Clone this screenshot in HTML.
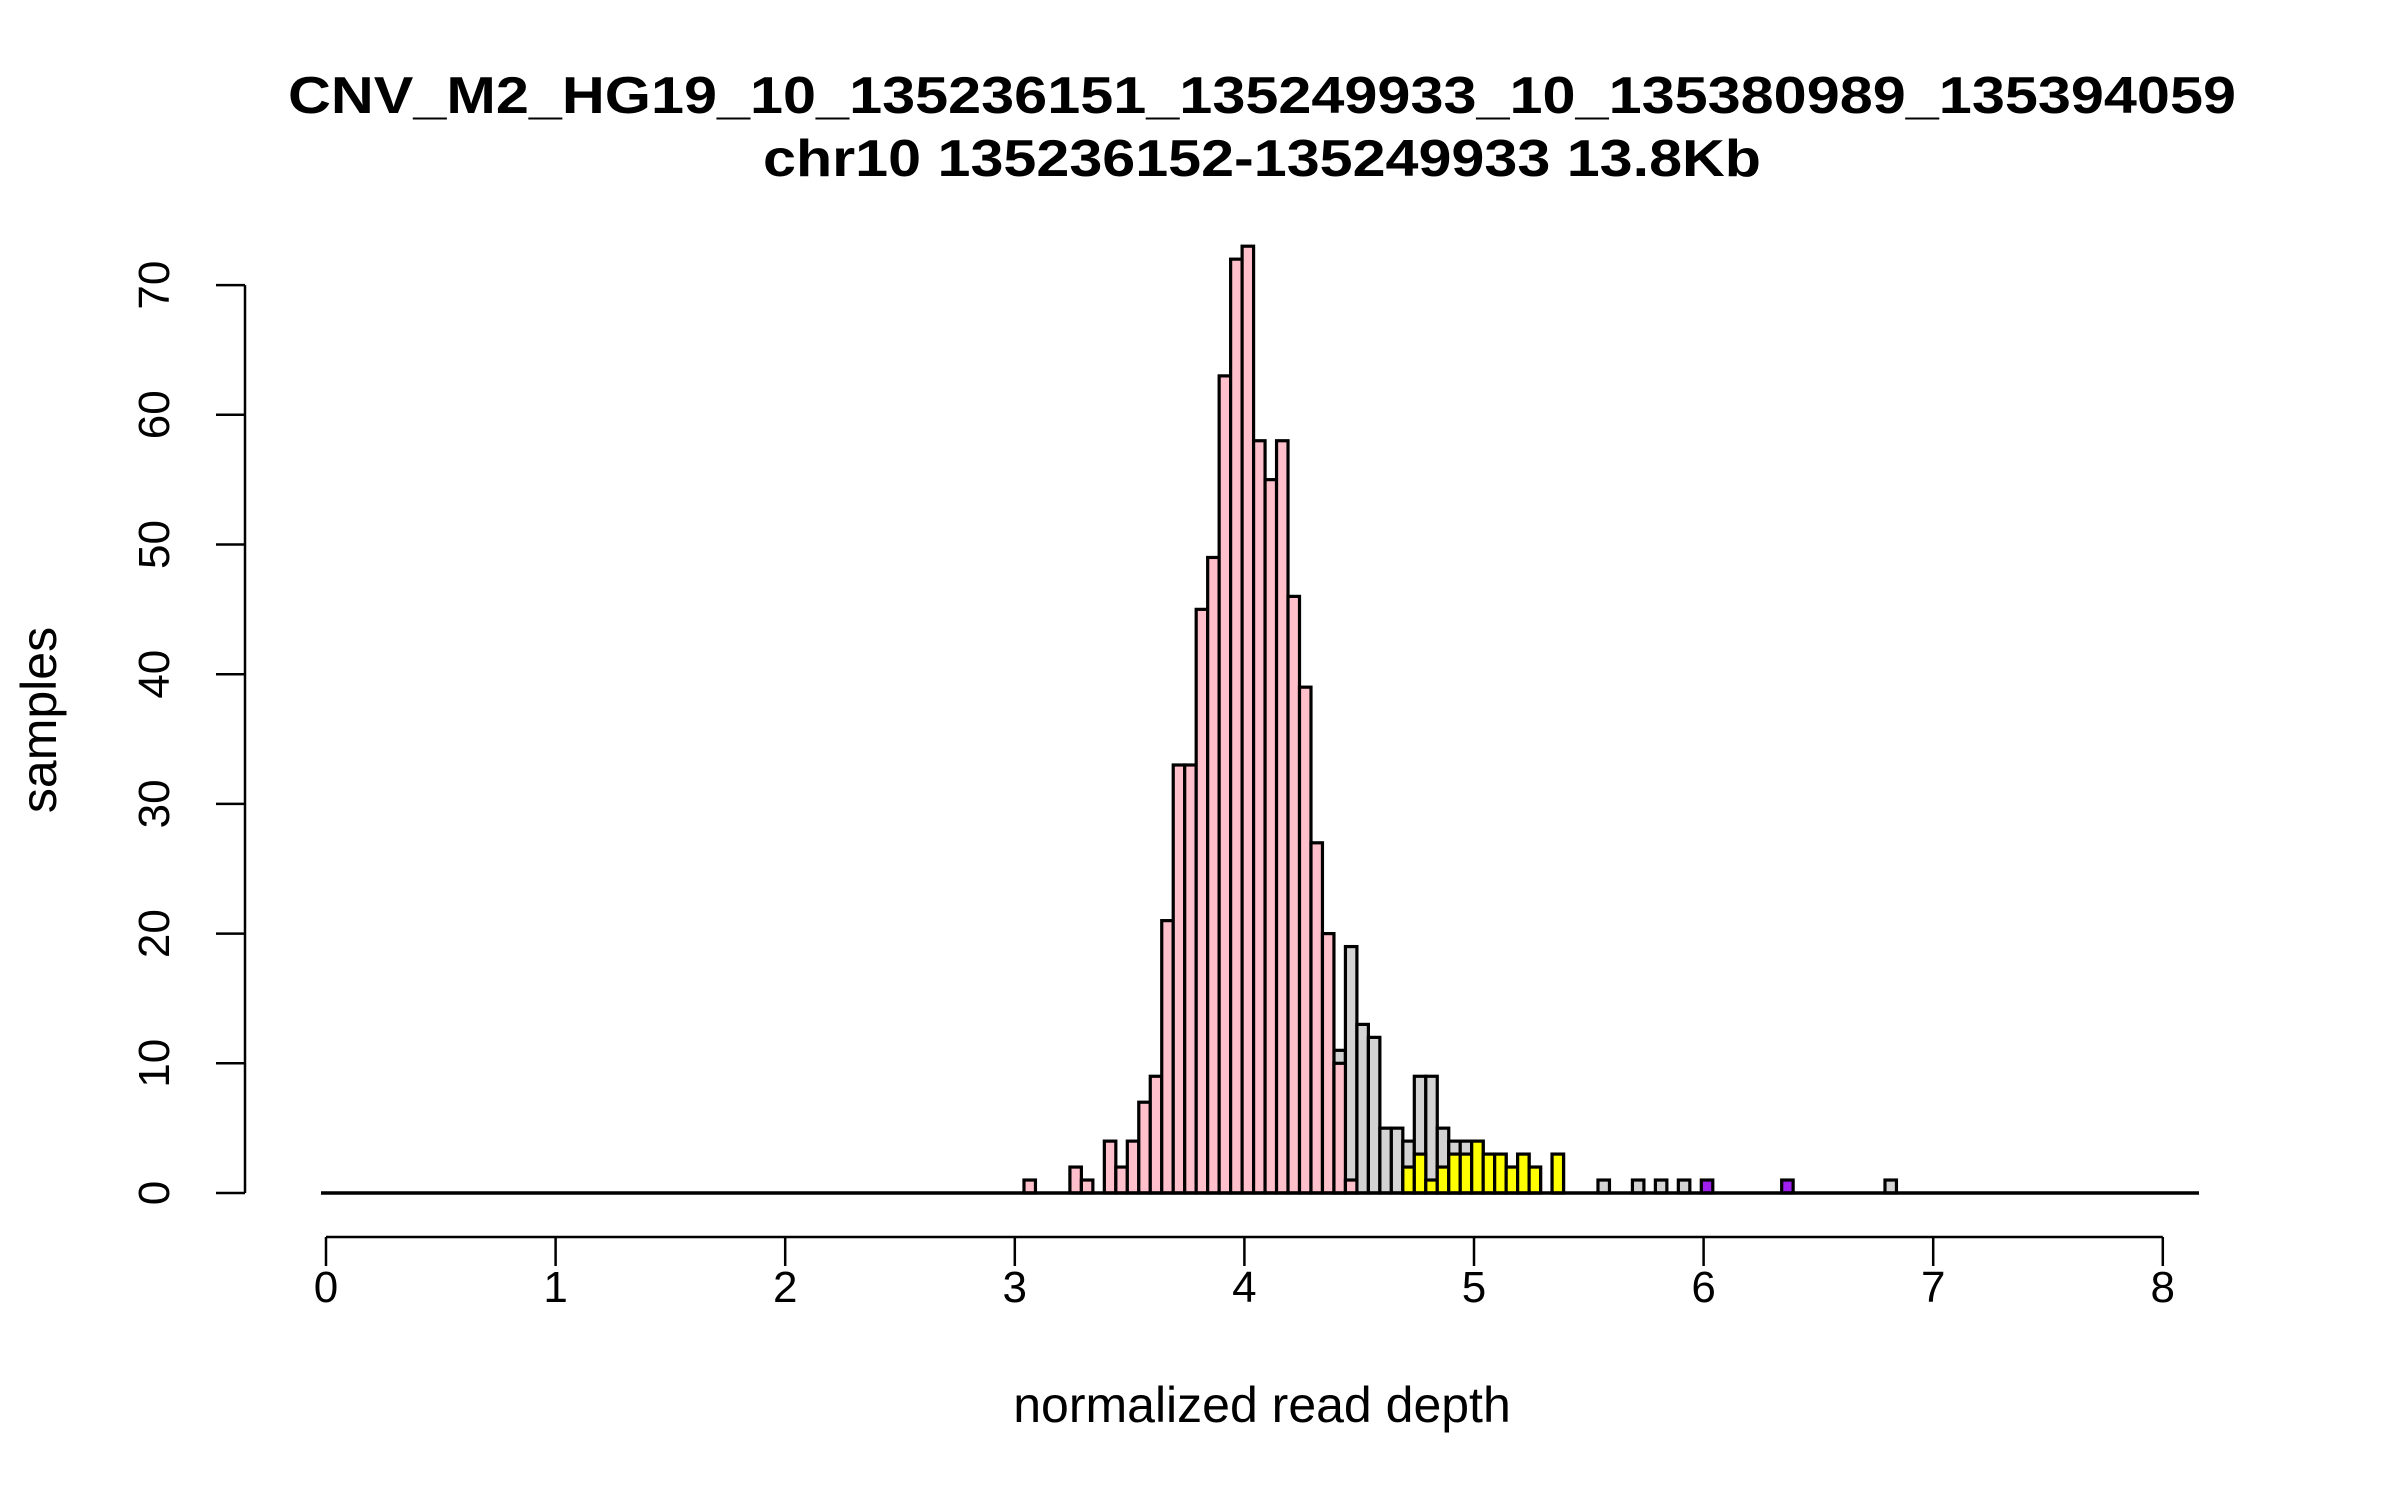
<!DOCTYPE html>
<html><head><meta charset="utf-8"><style>
html,body{margin:0;padding:0;background:#fff;}
svg{display:block;font-family:"Liberation Sans",Arial,sans-serif;}
</style></head><body>
<svg id="chart" width="2400" height="1500" viewBox="0 0 2400 1500" xmlns="http://www.w3.org/2000/svg">
<rect width="2400" height="1500" fill="#fff"/>
<text x="1262" y="113" text-anchor="middle" font-weight="bold" font-size="52" textLength="1948" lengthAdjust="spacingAndGlyphs">CNV_M2_HG19_10_135236151_135249933_10_135380989_135394059</text>
<text x="1262" y="176" text-anchor="middle" font-weight="bold" font-size="52" textLength="998" lengthAdjust="spacingAndGlyphs">chr10 135236152-135249933 13.8Kb</text>
<g id="bars"></g>
<g id="axes"></g>
<text x="1262" y="1422" text-anchor="middle" font-size="50">normalized read depth</text>
<text transform="translate(56,720) rotate(-90)" text-anchor="middle" font-size="50">samples</text>
</svg>
<script>
const binStart = 3.04;
const binWidth = 0.05;
const pinkCounts = [1,0,0,0,2,1,0,4,2,4,7,9,21,33,33,45,49,63,72,73,58,55,58,46,39,27,20,10,1];
const greyBins =   [27,28,29,30,31,32,33,34,35,36,37,38,39,40,41,42,43,44,46,50,53,55,57,75];
const greyCounts = [11,19,13,12,5,5,4,9,9,5,4,4,4,3,3,2,3,2,3,1,1,1,1,1];
const yellowBins =   [33,34,35,36,37,38,39,40,41,42,43,44,46];
const yellowCounts = [2,3,1,2,3,3,4,3,3,2,3,2,3];
const purpleBins =   [59,66];
const purpleCounts = [1,1];
const xTicks = [0,1,2,3,4,5,6,7,8];
const yTicks = [0,10,20,30,40,50,60,70];

const NS = "http://www.w3.org/2000/svg";
function xs(v){ return 326 + v * 229.6; }
function ys(v){ return 1193 - v * 12.97; }
const bars = document.getElementById('bars');
const axes = document.getElementById('axes');
function mk(tag, attrs, parent){
  const e = document.createElementNS(NS, tag);
  for (const k in attrs) e.setAttribute(k, attrs[k]);
  parent.appendChild(e);
  return e;
}
function drawSeries(bins, counts, fill, name){
  for (let i = 0; i < counts.length; i++){
    if (counts[i] <= 0) continue;
    const x0 = xs(binStart + bins[i] * binWidth), x1 = xs(binStart + (bins[i] + 1) * binWidth);
    const r = mk('rect', {x: x0, y: ys(counts[i]), width: x1 - x0, height: ys(0) - ys(counts[i]), fill: fill, stroke: '#000', 'stroke-width': 3.2}, bars);
    
    
  }
}
drawSeries(greyBins, greyCounts, '#d3d3d3', 'grey');
drawSeries(pinkCounts.map((_, i) => i), pinkCounts, '#ffc0cb', 'pink');
drawSeries(yellowBins, yellowCounts, '#ffff00', 'yellow');
drawSeries(purpleBins, purpleCounts, '#a020f0', 'purple');

const bl = mk('line', {x1: 321, x2: 2199, y1: ys(0), y2: ys(0), stroke: '#000', 'stroke-width': 3.5}, bars);



const xa = mk('line', {x1: xs(xTicks[0]), x2: xs(xTicks[xTicks.length-1]), y1: 1237, y2: 1237, stroke: '#000', 'stroke-width': 2.5}, axes);


xTicks.forEach(t => {
  const tk = mk('line', {x1: xs(t), x2: xs(t), y1: 1237, y2: 1266, stroke: '#000', 'stroke-width': 2.5}, axes);
  
  
  const lb = mk('text', {x: xs(t), y: 1302, 'text-anchor': 'middle', 'font-size': 44}, axes);
  lb.textContent = String(t);
  
  
});
const ya = mk('line', {x1: 245, x2: 245, y1: ys(yTicks[0]), y2: ys(yTicks[yTicks.length-1]), stroke: '#000', 'stroke-width': 2.5}, axes);


yTicks.forEach(t => {
  const tk = mk('line', {x1: 216, x2: 245, y1: ys(t), y2: ys(t), stroke: '#000', 'stroke-width': 2.5}, axes);
  
  
  const lb = mk('text', {transform: 'translate(169,' + ys(t) + ') rotate(-90)', 'text-anchor': 'middle', 'font-size': 44}, axes);
  lb.textContent = String(t);
  
  
});
</script>
</body></html>
